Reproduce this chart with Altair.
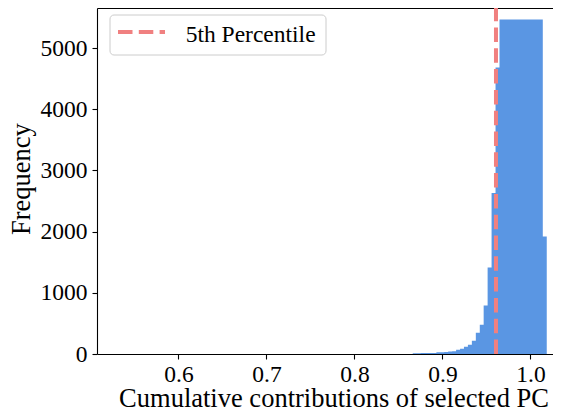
import altair as alt
import pandas as pd

# ---- data ----
bin_lo = [0.8662, 0.8707, 0.8752, 0.8796, 0.8841, 0.8886, 0.8931, 0.8976,
          0.9020, 0.9065, 0.9110, 0.9155, 0.9200, 0.9244, 0.9289, 0.9334,
          0.9379, 0.9424, 0.9468, 0.9513, 0.9558, 0.9603, 0.9648, 0.9692,
          0.9737, 0.9782, 0.9827, 0.9872, 0.9916, 0.9961, 1.0006, 1.0051,
          1.0096, 1.0140]
last_edge = 1.0185
counts = [12, 14, 15, 15, 16, 17, 28, 30,
          33, 42, 46, 70, 87, 119, 152, 217,
          348, 479, 794, 1415, 2630, 4680, 5465, 5465,
          5465, 5465, 5465, 5465, 5465, 5465, 5465, 5465,
          5465, 1922]
percentile_5 = 0.9608
legend_label = "5th Percentile"
x_title = "Cumulative contributions of selected PC"
y_title = "Frequency"
x_ticks = [0.6, 0.7, 0.8, 0.9, 1.0]
y_ticks = [0, 1000, 2000, 3000, 4000, 5000]
x_domain = [0.5074, 1.0256]
y_domain = [0, 5654]

BAR_COLOR = "#5a96e3"
LINE_COLOR = "#f08080"
FONT = "Liberation Serif"
W, H = 456, 346

# histogram outline as a step area: each bin's count holds from its left edge
# to the next edge; the last edge closes the final bin
hist_df = pd.DataFrame({"edge": bin_lo + [last_edge],
                        "count": counts + [counts[-1]]})
pct_df = pd.DataFrame({"pct": [percentile_5], "y0": [0], "y1": [y_domain[1]]})
leg_df = pd.DataFrame({"label": [legend_label]})

x_scale = alt.Scale(domain=x_domain, nice=False, zero=False)
y_scale = alt.Scale(domain=y_domain, nice=False, zero=True)

y_axis = alt.Axis(values=y_ticks, format="d", title=y_title,
                  titleX=-67.5, titleY=170.6, titleAngle=270,
                  titleAlign="center", titleBaseline="alphabetic",
                  labelPadding=5, labelFont=FONT, titleFont=FONT)

bars = alt.Chart(hist_df).mark_area(
    color=BAR_COLOR, interpolate="step-after"
).encode(
    x=alt.X("edge:Q", scale=x_scale,
            axis=alt.Axis(values=x_ticks, format=".1f", title=x_title,
                          titleX=236.5, titleY=52, titleAlign="center",
                          titleBaseline="alphabetic", labelPadding=3,
                          labelFont=FONT, titleFont=FONT)),
    y=alt.Y("count:Q", scale=y_scale, axis=y_axis, stack=False),
    y2=alt.datum(0),
)

pct_rule = alt.Chart(pct_df).mark_rule(
    color=LINE_COLOR, strokeWidth=4, strokeDash=[14.5, 6.3]
).encode(
    x=alt.X("pct:Q", scale=x_scale,
            axis=alt.Axis(orient="top", labels=False, ticks=False, title=None,
                          domainColor="black")),
    y=alt.Y("y0:Q", scale=y_scale, axis=y_axis),
    y2="y1:Q",
)

leg_box = alt.Chart(leg_df).mark_rect(
    fill="white", stroke="#cccccc", strokeWidth=1, cornerRadius=4
).encode(x=alt.value(13), x2=alt.value(229), y=alt.value(7), y2=alt.value(47))

leg_line = alt.Chart(leg_df).mark_rule(
    color=LINE_COLOR, strokeWidth=4, strokeDash=[14.5, 6.3]
).encode(x=alt.value(21), x2=alt.value(68), y=alt.value(24), y2=alt.value(24))

leg_text = alt.Chart(leg_df).mark_text(
    align="left", baseline="alphabetic", font=FONT, fontSize=23.5, color="black"
).encode(x=alt.value(88.7), y=alt.value(33.7), text="label:N")

chart = alt.layer(bars, pct_rule, leg_box, leg_line, leg_text).resolve_axis(
    x="independent"
).properties(
    width=W, height=H,
    autosize=alt.AutoSizeParams(type="none"),
    padding={"left": 89, "top": 0, "right": 0, "bottom": 58},
).configure_view(stroke=None).configure_axis(
    labelFont=FONT, labelFontSize=23.5, labelColor="black",
    titleFont=FONT, titleFontSize=26.5, titleColor="black", titleFontWeight="normal",
    domainColor="black", domainWidth=1.1, tickColor="black", tickWidth=1.1,
    tickSize=5, grid=False,
)

chart.save("out.html", embed_options={"renderer": "svg", "actions": False})
